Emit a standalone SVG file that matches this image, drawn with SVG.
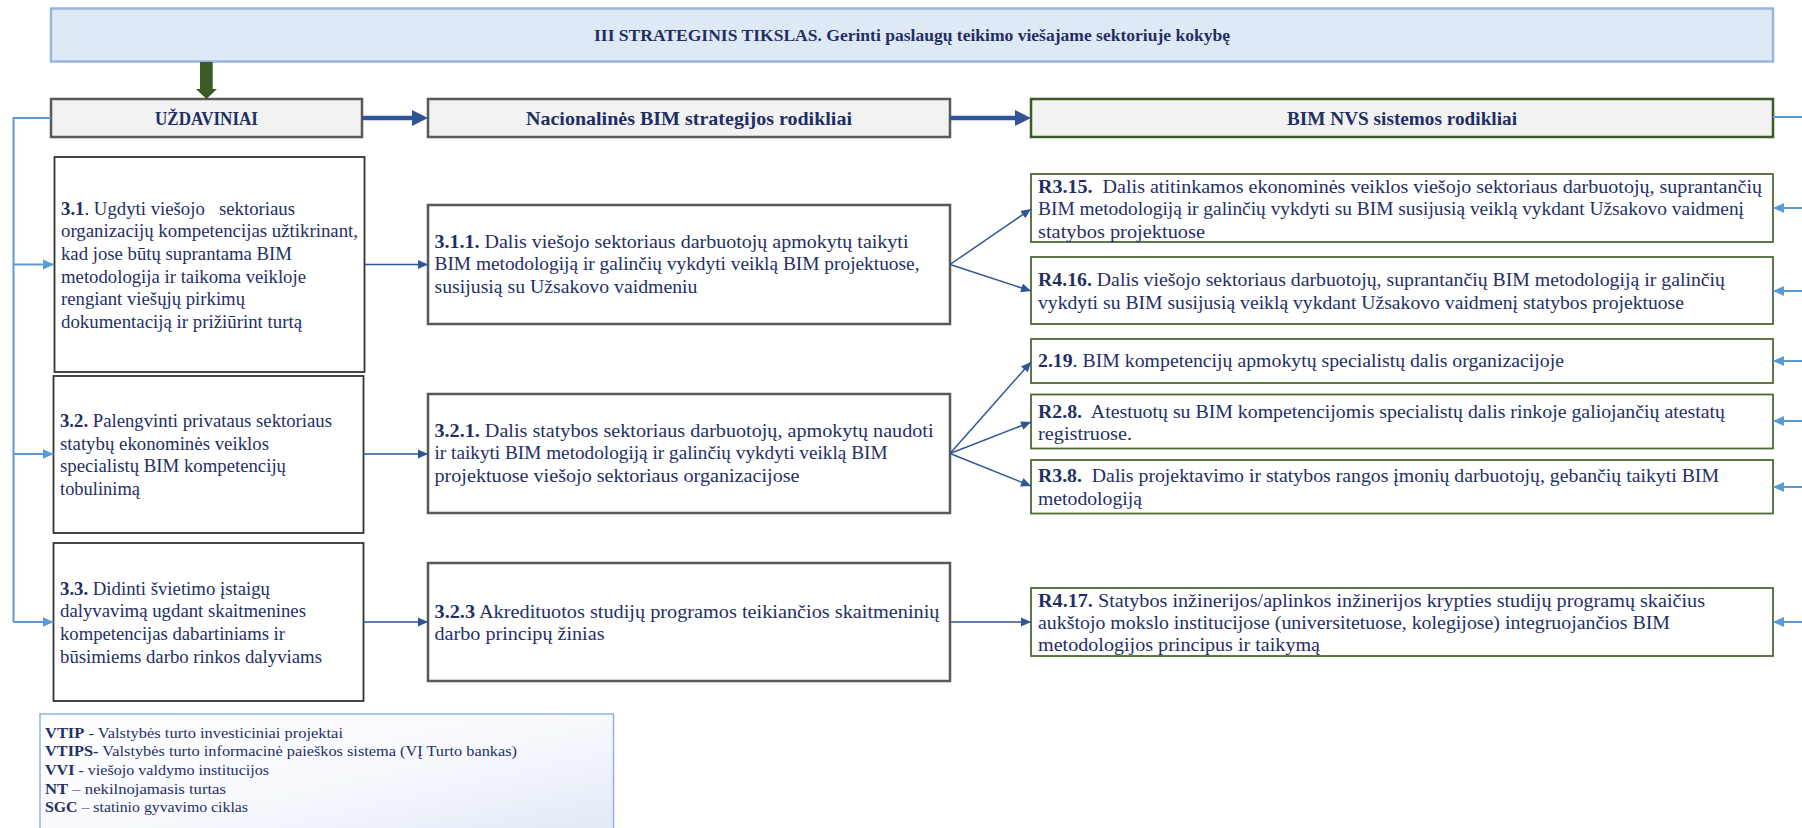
<svg xmlns="http://www.w3.org/2000/svg" width="1802" height="828" viewBox="0 0 1802 828">
  <defs>
    <style>
      text { font-family: "Liberation Serif", "Times New Roman", serif; fill: #1f2f66; white-space: pre; }
      .t-title { font-size: 17.5px; font-weight: bold; }
      .t-head { font-size: 19px; font-weight: bold; }
      .t-body { font-size: 18px; }
      .t-legend { font-size: 14px; }
      .b { font-weight: bold; }
      .box-title { fill: #dfe9f5; stroke: #9ab3df; stroke-width: 2.5; }
      .box-head { fill: #f2f2f2; stroke: #595959; stroke-width: 2.5; }
      .box-head-green { fill: #f2f2f2; stroke: #3a5a26; stroke-width: 2.5; }
      .box-task { fill: #ffffff; stroke: #333333; stroke-width: 1.8; }
      .box-mid { fill: #ffffff; stroke: #595959; stroke-width: 2.5; }
      .box-nvs { fill: #ffffff; stroke: #4e6b30; stroke-width: 1.8; }
      .box-legend { fill: url(#legendFill); stroke: #8eb4e3; stroke-width: 1.5; }
      .c-dark { fill: none; stroke: #2f5597; stroke-width: 1.5; marker-end: url(#ah-dark); }
      .c-light { fill: none; stroke: #5b9bd5; stroke-width: 2; }
      .c-light-arrow { fill: none; stroke: #5b9bd5; stroke-width: 2; marker-end: url(#ah-light); }
      .c-bold { fill: none; stroke: #2f5597; stroke-width: 4.5; marker-end: url(#ah-bold); }
    </style>
    <marker id="ah-dark" markerUnits="userSpaceOnUse" markerWidth="10" markerHeight="10" viewBox="0 0 10 10" refX="10" refY="5" orient="auto">
      <path d="M0,0.5 L10,5 L0,9.5 z" fill="#2f5597"/>
    </marker>
    <marker id="ah-light" markerUnits="userSpaceOnUse" markerWidth="11" markerHeight="11" viewBox="0 0 11 11" refX="11" refY="5.5" orient="auto">
      <path d="M0,0.5 L11,5.5 L0,10.5 z" fill="#5b9bd5"/>
    </marker>
    <marker id="ah-bold" markerUnits="userSpaceOnUse" markerWidth="16" markerHeight="16" viewBox="0 0 16 16" refX="2" refY="8" orient="auto">
      <path d="M0,0 L16,8 L0,16 z" fill="#2f5597"/>
    </marker>
    <linearGradient id="legendFill" x1="0" y1="0" x2="1" y2="1">
      <stop offset="0" stop-color="#ffffff"/>
      <stop offset="0.5" stop-color="#f7f9fd"/>
      <stop offset="1" stop-color="#dfe8f5"/>
    </linearGradient>
  </defs>

  <!-- strategic goal banner -->
  <g id="node-goal">
    <rect class="box-title" x="51" y="8.5" width="1722" height="53"/>
    <text class="t-title" x="912" y="41" text-anchor="middle" textLength="636" lengthAdjust="spacingAndGlyphs">III STRATEGINIS TIKSLAS. Gerinti paslaugų teikimo viešajame sektoriuje kokybę</text>
  </g>

  <!-- column headers -->
  <g id="node-uzdaviniai">
    <rect class="box-head" x="51" y="99" width="311" height="38"/>
    <text class="t-head" x="206.5" y="124.5" text-anchor="middle" textLength="103" lengthAdjust="spacingAndGlyphs">UŽDAVINIAI</text>
  </g>
  <g id="node-nacionalines">
    <rect class="box-head" x="428" y="99" width="522" height="38"/>
    <text class="t-head" x="689" y="124.5" text-anchor="middle" textLength="326" lengthAdjust="spacingAndGlyphs">Nacionalinės BIM strategijos rodikliai</text>
  </g>
  <g id="node-nvs">
    <rect class="box-head-green" x="1031" y="99" width="742" height="38"/>
    <text class="t-head" x="1402" y="124.5" text-anchor="middle" textLength="230" lengthAdjust="spacingAndGlyphs">BIM NVS sistemos rodikliai</text>
  </g>

  <!-- tasks -->
  <g id="node-3-1">
    <rect class="box-task" x="54.5" y="157" width="310" height="215"/>
    <text class="t-body" x="61" y="214.5" textLength="234" lengthAdjust="spacingAndGlyphs"><tspan class="b">3.1</tspan>. Ugdyti viešojo   sektoriaus</text>
    <text class="t-body" x="61" y="237.2" textLength="297" lengthAdjust="spacingAndGlyphs">organizacijų kompetencijas užtikrinant,</text>
    <text class="t-body" x="61" y="259.9" textLength="231" lengthAdjust="spacingAndGlyphs">kad jose būtų suprantama BIM</text>
    <text class="t-body" x="61" y="282.6" textLength="245" lengthAdjust="spacingAndGlyphs">metodologija ir taikoma veikloje</text>
    <text class="t-body" x="61" y="305.3" textLength="184" lengthAdjust="spacingAndGlyphs">rengiant viešųjų pirkimų</text>
    <text class="t-body" x="61" y="328" textLength="241" lengthAdjust="spacingAndGlyphs">dokumentaciją ir prižiūrint turtą</text>
  </g>
  <g id="node-3-2">
    <rect class="box-task" x="53.5" y="376" width="310" height="157"/>
    <text class="t-body" x="60" y="427" textLength="272" lengthAdjust="spacingAndGlyphs"><tspan class="b">3.2.</tspan> Palengvinti privataus sektoriaus</text>
    <text class="t-body" x="60" y="449.6" textLength="209" lengthAdjust="spacingAndGlyphs">statybų ekonominės veiklos</text>
    <text class="t-body" x="60" y="472.2" textLength="226" lengthAdjust="spacingAndGlyphs">specialistų BIM kompetencijų</text>
    <text class="t-body" x="60" y="494.8" textLength="80" lengthAdjust="spacingAndGlyphs">tobulinimą</text>
  </g>
  <g id="node-3-3">
    <rect class="box-task" x="53.5" y="543" width="310" height="158"/>
    <text class="t-body" x="60" y="594.5" textLength="210" lengthAdjust="spacingAndGlyphs"><tspan class="b">3.3.</tspan> Didinti švietimo įstaigų</text>
    <text class="t-body" x="60" y="617" textLength="246" lengthAdjust="spacingAndGlyphs">dalyvavimą ugdant skaitmenines</text>
    <text class="t-body" x="60" y="640" textLength="225" lengthAdjust="spacingAndGlyphs">kompetencijas dabartiniams ir</text>
    <text class="t-body" x="60" y="662.5" textLength="262" lengthAdjust="spacingAndGlyphs">būsimiems darbo rinkos dalyviams</text>
  </g>

  <!-- national strategy indicators -->
  <g id="node-3-1-1">
    <rect class="box-mid" x="428" y="205" width="522" height="119"/>
    <text class="t-body" x="434.5" y="247.5" textLength="474" lengthAdjust="spacingAndGlyphs"><tspan class="b">3.1.1.</tspan> Dalis viešojo sektoriaus darbuotojų apmokytų taikyti</text>
    <text class="t-body" x="434.5" y="270" textLength="485" lengthAdjust="spacingAndGlyphs">BIM metodologiją ir galinčių vykdyti veiklą BIM projektuose,</text>
    <text class="t-body" x="434.5" y="292.5" textLength="263" lengthAdjust="spacingAndGlyphs">susijusią su Užsakovo vaidmeniu</text>
  </g>
  <g id="node-3-2-1">
    <rect class="box-mid" x="428" y="394" width="522" height="119"/>
    <text class="t-body" x="434.5" y="436.5" textLength="499" lengthAdjust="spacingAndGlyphs"><tspan class="b">3.2.1.</tspan> Dalis statybos sektoriaus darbuotojų, apmokytų naudoti</text>
    <text class="t-body" x="434.5" y="459" textLength="453" lengthAdjust="spacingAndGlyphs">ir taikyti BIM metodologiją ir galinčių vykdyti veiklą BIM</text>
    <text class="t-body" x="434.5" y="481.5" textLength="365" lengthAdjust="spacingAndGlyphs">projektuose viešojo sektoriaus organizacijose</text>
  </g>
  <g id="node-3-2-3">
    <rect class="box-mid" x="428" y="563" width="522" height="118"/>
    <text class="t-body" x="434.5" y="617.5" textLength="505" lengthAdjust="spacingAndGlyphs"><tspan class="b">3.2.3</tspan> Akredituotos studijų programos teikiančios skaitmeninių</text>
    <text class="t-body" x="434.5" y="640" textLength="170" lengthAdjust="spacingAndGlyphs">darbo principų žinias</text>
  </g>

  <!-- BIM NVS indicators -->
  <g id="node-r3-15">
    <rect class="box-nvs" x="1031" y="174" width="742" height="68"/>
    <text class="t-body" x="1038" y="192.5" textLength="724" lengthAdjust="spacingAndGlyphs"><tspan class="b">R3.15.</tspan>  Dalis atitinkamos ekonominės veiklos viešojo sektoriaus darbuotojų, suprantančių</text>
    <text class="t-body" x="1038" y="215" textLength="706" lengthAdjust="spacingAndGlyphs">BIM metodologiją ir galinčių vykdyti su BIM susijusią veiklą vykdant Užsakovo vaidmenį</text>
    <text class="t-body" x="1038" y="237.5" textLength="167" lengthAdjust="spacingAndGlyphs">statybos projektuose</text>
  </g>
  <g id="node-r4-16">
    <rect class="box-nvs" x="1031" y="257" width="742" height="67"/>
    <text class="t-body" x="1038" y="285.5" textLength="687" lengthAdjust="spacingAndGlyphs"><tspan class="b">R4.16.</tspan> Dalis viešojo sektoriaus darbuotojų, suprantančių BIM metodologiją ir galinčių</text>
    <text class="t-body" x="1038" y="308.5" textLength="646" lengthAdjust="spacingAndGlyphs">vykdyti su BIM susijusią veiklą vykdant Užsakovo vaidmenį statybos projektuose</text>
  </g>
  <g id="node-2-19">
    <rect class="box-nvs" x="1031" y="339" width="742" height="44"/>
    <text class="t-body" x="1038" y="366.5" textLength="526" lengthAdjust="spacingAndGlyphs"><tspan class="b">2.19</tspan>. BIM kompetencijų apmokytų specialistų dalis organizacijoje</text>
  </g>
  <g id="node-r2-8">
    <rect class="box-nvs" x="1031" y="394.5" width="742" height="54"/>
    <text class="t-body" x="1038" y="417.5" textLength="687" lengthAdjust="spacingAndGlyphs"><tspan class="b">R2.8.</tspan>  Atestuotų su BIM kompetencijomis specialistų dalis rinkoje galiojančių atestatų</text>
    <text class="t-body" x="1038" y="439.5" textLength="94" lengthAdjust="spacingAndGlyphs">registruose.</text>
  </g>
  <g id="node-r3-8">
    <rect class="box-nvs" x="1031" y="460" width="742" height="53.5"/>
    <text class="t-body" x="1038" y="481.5" textLength="681" lengthAdjust="spacingAndGlyphs"><tspan class="b">R3.8.</tspan>  Dalis projektavimo ir statybos rangos įmonių darbuotojų, gebančių taikyti BIM</text>
    <text class="t-body" x="1038" y="504.5" textLength="104" lengthAdjust="spacingAndGlyphs">metodologiją</text>
  </g>
  <g id="node-r4-17">
    <rect class="box-nvs" x="1031" y="588" width="742" height="68"/>
    <text class="t-body" x="1038" y="606.5" textLength="667" lengthAdjust="spacingAndGlyphs"><tspan class="b">R4.17.</tspan> Statybos inžinerijos/aplinkos inžinerijos krypties studijų programų skaičius</text>
    <text class="t-body" x="1038" y="628.5" textLength="632" lengthAdjust="spacingAndGlyphs">aukštojo mokslo institucijose (universitetuose, kolegijose) integruojančios BIM</text>
    <text class="t-body" x="1038" y="651" textLength="282" lengthAdjust="spacingAndGlyphs">metodologijos principus ir taikymą</text>
  </g>

  <!-- abbreviations -->
  <g id="node-legend">
    <rect class="box-legend" x="40" y="714" width="573.5" height="130"/>
    <text class="t-legend" x="45" y="737.5" textLength="298" lengthAdjust="spacingAndGlyphs"><tspan class="b">VTIP</tspan> - Valstybės turto investiciniai projektai</text>
    <text class="t-legend" x="45" y="756.2" textLength="472" lengthAdjust="spacingAndGlyphs"><tspan class="b">VTIPS-</tspan> Valstybės turto informacinė paieškos sistema (VĮ Turto bankas)</text>
    <text class="t-legend" x="45" y="774.9" textLength="224" lengthAdjust="spacingAndGlyphs"><tspan class="b">VVI</tspan> - viešojo valdymo institucijos</text>
    <text class="t-legend" x="45" y="793.6" textLength="181" lengthAdjust="spacingAndGlyphs"><tspan class="b">NT</tspan> – nekilnojamasis turtas</text>
    <text class="t-legend" x="45" y="812.3" textLength="203" lengthAdjust="spacingAndGlyphs"><tspan class="b">SGC</tspan> – statinio gyvavimo ciklas</text>
  </g>

  <!-- connectors -->
  <g id="connectors">
    <!-- goal to tasks -->
    <path d="M200,62 H212.7 V89 H217 L206.5,99 L196,89 H200 Z" fill="#3a5a26"/>
    <!-- header flow -->
    <line class="c-bold" x1="362" y1="118" x2="414" y2="118"/>
    <line class="c-bold" x1="950" y1="118" x2="1017" y2="118"/>
    <!-- left feed into tasks -->
    <path class="c-light" d="M51,118 H13.5 V622"/>
    <line class="c-light-arrow" x1="13.5" y1="264.5" x2="54" y2="264.5"/>
    <line class="c-light-arrow" x1="13.5" y1="454" x2="53.5" y2="454"/>
    <line class="c-light-arrow" x1="13.5" y1="622" x2="53.5" y2="622"/>
    <!-- tasks to strategy indicators -->
    <line class="c-dark" x1="364.5" y1="264.5" x2="428" y2="264.5"/>
    <line class="c-dark" x1="363.5" y1="454" x2="428" y2="454"/>
    <line class="c-dark" x1="363.5" y1="622" x2="428" y2="622"/>
    <!-- strategy indicators to NVS indicators -->
    <line class="c-dark" x1="950" y1="264.5" x2="1031" y2="209"/>
    <line class="c-dark" x1="950" y1="264.5" x2="1031" y2="291"/>
    <line class="c-dark" x1="950" y1="453.5" x2="1031" y2="362"/>
    <line class="c-dark" x1="950" y1="453.5" x2="1031" y2="422"/>
    <line class="c-dark" x1="950" y1="453.5" x2="1031" y2="486"/>
    <line class="c-dark" x1="950" y1="622" x2="1031" y2="622"/>
    <!-- right feed into NVS indicators -->
    <line class="c-light" x1="1773" y1="117" x2="1802" y2="117"/>
    <line class="c-light-arrow" x1="1802" y1="208" x2="1773" y2="208"/>
    <line class="c-light-arrow" x1="1802" y1="291" x2="1773" y2="291"/>
    <line class="c-light-arrow" x1="1802" y1="361" x2="1773" y2="361"/>
    <line class="c-light-arrow" x1="1802" y1="421" x2="1773" y2="421"/>
    <line class="c-light-arrow" x1="1802" y1="487" x2="1773" y2="487"/>
    <line class="c-light-arrow" x1="1802" y1="622" x2="1773" y2="622"/>
  </g>
</svg>
